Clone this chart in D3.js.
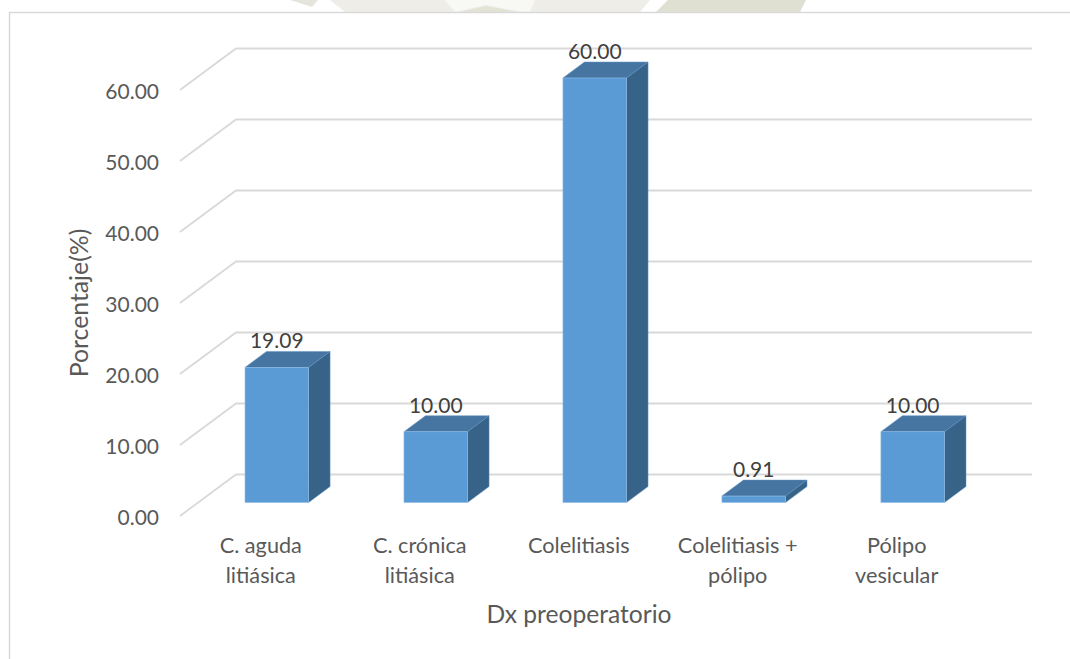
<!DOCTYPE html>
<html><head><meta charset="utf-8">
<script src="https://cdn.jsdelivr.net/npm/d3@7/dist/d3.min.js"></script>
<style>html,body{margin:0;padding:0;background:#fff}svg{display:block}text{font-family:Lato,"Open Sans",sans-serif}</style>
</head><body><svg id="c" width="1070" height="659"></svg>
<script>
const categories=[["C. aguda","litiásica"],["C. crónica","litiásica"],["Colelitiasis"],["Colelitiasis +","pólipo"],["Pólipo","vesicular"]];
const values=[19.09,10,60,0.91,10];
const labels=["19.09","10.00","60.00","0.91","10.00"];
const ticks=[0,10,20,30,40,50,60];
const yTitle="Porcentaje(%)", xTitle="Dx preoperatorio";
const svg=d3.select("#c");
// faint watermark remnants above the frame
svg.append("path").attr("d","M290 0L318 0L312 7Z").attr("fill","#e6e5dd");
svg.append("path").attr("d","M330 0L650 0L640 12L345 12Z").attr("fill","#eeede7");
svg.append("path").attr("d","M445 0L535 0L530 12L522 12L486 5L455 12Z").attr("fill","#f8f8f5");
svg.append("path").attr("d","M460 12L486 6L518 12Z").attr("fill","#e2e2d5");
svg.append("path").attr("d","M668 0L806 0L800 12L656 12Z").attr("fill","#e0e0d2");
svg.append("path").attr("d","M9.5 659V12.5H1070").attr("fill","none").attr("stroke","#d9d9d9").attr("stroke-width",1.5);
const y=d3.scaleLinear().domain([0,60]).range([502.5,78]);
const x=d3.scaleBand().domain(d3.range(5)).range([245,944.5]).paddingInner(0.6);
const gridY=d3.scaleLinear().domain([0,60]).range([474.5,48.5]);
const dxG=56,dyG=41.5,right=1032;
const g=svg.append("g");
ticks.forEach(t=>{
  const p=d3.path();const yy=gridY(t);
  p.moveTo(180,yy+dyG);p.lineTo(180+dxG,yy);p.lineTo(right,yy);
  g.append("path").attr("d",p.toString()).attr("fill","none").attr("stroke","#d9d9d9").attr("stroke-width",1.8);
  g.append("text").attr("x",159).attr("y",yy+dyG+9).attr("text-anchor","end").attr("font-size",21).attr("fill","#595959").text(d3.format(".2f")(t));
});
const dx=21.5,dy=16;
const bars=svg.selectAll("g.b").data(values).join("g").attr("class","b");
bars.each(function(v,i){
  const s=d3.select(this),x0=x(i),w=x.bandwidth(),t=y(v),b=y(0);
  s.append("polygon").attr("points",[[x0,t],[x0+dx,t-dy],[x0+w+dx,t-dy],[x0+w,t]].join(" ")).attr("fill","#4675a1").attr("stroke","#5f93c4").attr("stroke-width",.5);
  s.append("polygon").attr("points",[[x0+w,t],[x0+w+dx,t-dy],[x0+w+dx,b-dy],[x0+w,b]].join(" ")).attr("fill","#376388").attr("stroke","#5f93c4").attr("stroke-width",.5);
  s.append("rect").attr("x",x0).attr("y",t).attr("width",w).attr("height",b-t).attr("fill","#5b9bd5").attr("stroke","#8fbce4").attr("stroke-width",.6);
  s.append("text").attr("x",x0+w/2).attr("y",t-dy-3).attr("text-anchor","middle").attr("font-size",21).attr("fill","#404040").text(labels[i]);
});
categories.forEach((c,i)=>{
  const cx=x(i)+x.bandwidth()/2-16;
  c.forEach((l,k)=>svg.append("text").attr("x",cx).attr("y",553+k*30).attr("text-anchor","middle").attr("font-size",21.7).attr("fill","#595959").text(l));
});
svg.append("text").attr("x",579).attr("y",623).attr("text-anchor","middle").attr("font-size",24.6).attr("fill","#595959").text(xTitle);
svg.append("text").attr("transform","translate(88,303) rotate(-90)").attr("text-anchor","middle").attr("font-size",24.8).attr("fill","#595959").text(yTitle);
</script></body></html>
